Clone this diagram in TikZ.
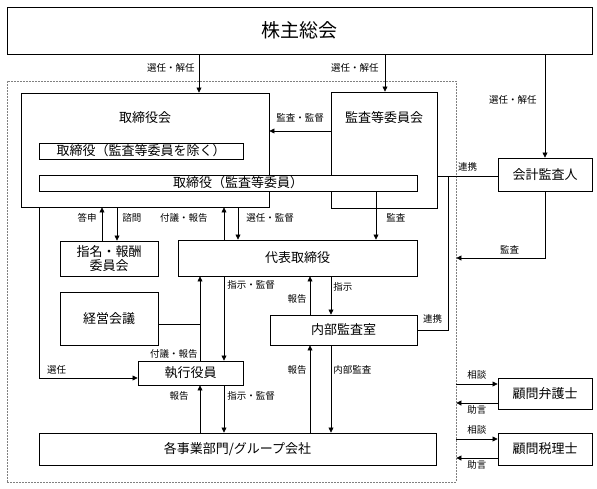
\documentclass[tikz,border=0pt]{standalone}
\usepackage{fontspec}
\setmainfont{Noto Sans CJK JP}
\usetikzlibrary{arrows.meta,
                positioning}

\begin{document}
\begin{tikzpicture}[x=1pt, y=-1pt,
   BOX/.style = {draw, fill=white, line width=0.9pt, inner sep=0pt,
                 align=center, font=\fontsize{13}{14}\selectfont},
   TXT/.style = {inner sep=0pt, font=\fontsize{13}{14}\selectfont},
   LBL/.style = {inner sep=0pt, font=\fontsize{9.5}{10}\selectfont},
   ARR/.style = {line width=0.7pt, -{Triangle[length=5pt, width=5pt]}},
  LINE/.style = {line width=0.7pt},
   GRP/.style = {draw=gray, line width=0.8pt, dash pattern=on 2pt off 1pt}
                        ]
\useasboundingbox (0,0) rectangle (597,488);
% general meeting and company frame
\node (gm)  [BOX, minimum width=585pt, minimum height=47pt,
             font=\fontsize{19}{20}\selectfont] at (299.5,30.5) {株主総会};
\node (grp) [GRP, minimum width=449pt, minimum height=401pt] at (231.5,281.5) {};
% board
\node (bod) [BOX, minimum width=248pt, minimum height=114pt] at (145,150) {};
\node (ac)  [BOX, minimum width=106pt, minimum height=116pt] at (384,150) {};
\node (bodt) [TXT] at (145,118) {取締役会};
\node (act)  [TXT] at (384,118) {監査等委員会};
\node (dir1) [BOX, minimum width=204pt, minimum height=16pt] at (141,151)
      {取締役（監査等委員を除く）};
\node (dir2) [BOX, minimum width=378pt, minimum height=16pt] at (228,183)
      {\hspace*{20pt}取締役（監査等委員）};
% outside
\node (cpa) [BOX, minimum width=94pt, minimum height=33pt] at (545,174.5) {会計監査人};
\node (law) [BOX, minimum width=94pt, minimum height=31pt] at (545,393.5) {顧問弁護士};
\node (tax) [BOX, minimum width=94pt, minimum height=32pt] at (545,449) {顧問税理士};
% executive side
\node (nom) [BOX, minimum width=98pt, minimum height=35pt] at (109,258.5) {指名・報酬\\委員会};
\node (ceo) [BOX, minimum width=239pt, minimum height=36pt] at (297.5,258) {代表取締役};
\node (mtg) [BOX, minimum width=98pt, minimum height=53pt] at (109,318.5) {経営会議};
\node (ia)  [BOX, minimum width=147pt, minimum height=30pt] at (343.5,330) {内部監査室};
\node (exe) [BOX, minimum width=105pt, minimum height=24pt] at (190.5,373) {執行役員};
\node (biz) [BOX, minimum width=397pt, minimum height=32pt] at (237.5,449)
      {各事業部門/グループ会社};
\coordinate (lnk) at (448,176);
\coordinate (mj)  at (200,324);
% general meeting
\draw[ARR] (199,0 |- gm.south) -- node[LBL, left=4pt, pos=.35]{選任・解任} (199,0 |- bod.north);
\draw[ARR] (385,0 |- gm.south) -- node[LBL, left=6pt, pos=.35]{選任・解任} (385,0 |- ac.north);
\draw[ARR] (gm.south -| cpa.north) -- node[LBL, left=8pt, pos=.44]{選任・解任} (cpa.north);
% audit
\draw[ARR] (ac.west |- 0,131) -- node[LBL, above=8pt]{監査・監督} (bod.east |- 0,131);
\draw[LINE] (ac.east |- lnk) -- node[LBL, above=4pt]{連携} (cpa.west |- lnk);
\draw[LINE] (lnk) |- node[LBL, pos=.75, above=6pt]{連携} (ia.east);
\draw[ARR] (cpa.south) |- node[LBL, pos=.7, above=4pt]{監査} (grp.east |- 0,258);
\draw[ARR] (376,0 |- dir2.south) -- node[LBL, right=10pt, pos=.55]{監査} (376,0 |- ceo.north);
% board and committees
\draw[ARR] (102,0 |- nom.north) -- node[LBL, left=5pt, pos=.68]{答申} (102,0 |- bod.south);
\draw[ARR] (117,0 |- bod.south) -- node[LBL, right=5pt, pos=.32]{諮問} (117,0 |- nom.north);
\draw[ARR] (224,0 |- ceo.north) -- node[LBL, left=16pt, pos=.68]{付議・報告} (224,0 |- bod.south);
\draw[ARR] (238,0 |- bod.south) -- node[LBL, right=8pt, pos=.32]{選任・監督} (238,0 |- ceo.north);
\draw[ARR] (39,0 |- bod.south) |- node[LBL, pos=.59, above=3pt]{選任} (exe.west |- 0,378);
% execution
\draw[ARR] (200,0 |- exe.north) -- node[LBL, left=2pt, pos=.08]{付議・報告} (200,0 |- ceo.south);
\draw[LINE] (mtg.east |- mj) -- (mj);
\draw[ARR] (224,0 |- ceo.south) -- node[LBL, right=3pt, pos=.1]{指示・監督} (224,0 |- exe.north);
\draw[ARR] (200,0 |- biz.north) -- node[LBL, left=11pt, pos=.78]{報告} (200,0 |- exe.south);
\draw[ARR] (224,0 |- exe.south) -- node[LBL, right=3pt, pos=.22]{指示・監督} (224,0 |- biz.north);
% internal audit
\draw[ARR] (310,0 |- ia.north) -- node[LBL, left=3pt, pos=.41]{報告} (310,0 |- ceo.south);
\draw[ARR] (331,0 |- ceo.south) -- node[LBL, right=2pt, pos=.28]{指示} (331,0 |- ia.north);
\draw[ARR] (310,0 |- biz.north) -- node[LBL, left=3pt, pos=.72]{報告} (310,0 |- ia.south);
\draw[ARR] (331,0 |- ia.south) -- node[LBL, right=2pt, pos=.28]{内部監査} (331,0 |- biz.north);
% advisers
\draw[ARR] (grp.east |- 0,384) -- node[LBL, above=4pt]{相談} (law.west |- 0,384);
\draw[ARR] (law.west |- 0,403) -- node[LBL, below=2pt]{助言} (grp.east |- 0,403);
\draw[ARR] (grp.east |- 0,439) -- node[LBL, above=4pt]{相談} (tax.west |- 0,439);
\draw[ARR] (tax.west |- 0,458) -- node[LBL, below=2pt]{助言} (grp.east |- 0,458);
\end{tikzpicture}
\end{document}
